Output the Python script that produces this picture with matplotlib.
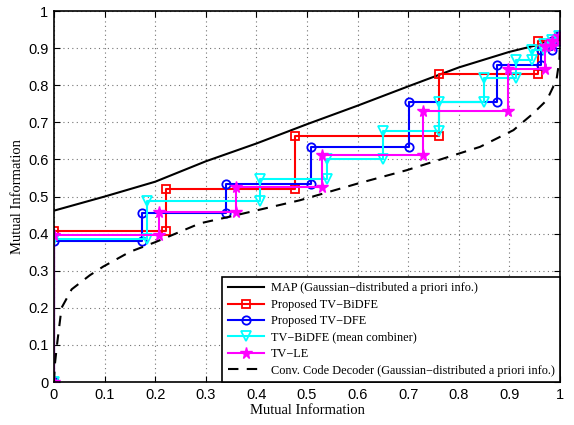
import matplotlib.pyplot as plt

# EXIT chart data
map_x = [0, 0.1, 0.2, 0.3, 0.4, 0.5, 0.6, 0.7, 0.8, 0.9, 0.96, 1.0]
map_y = [0.462, 0.500, 0.540, 0.595, 0.643, 0.695, 0.745, 0.797, 0.848, 0.890, 0.910, 0.934]

conv_x = [0, 0.002, 0.006, 0.015, 0.035, 0.071, 0.097, 0.150, 0.200, 0.289, 0.348,
          0.486, 0.600, 0.697, 0.842, 0.908, 0.947, 0.974, 0.993, 0.999, 1.0]
conv_y = [0, 0.050, 0.100, 0.200, 0.250, 0.288, 0.311, 0.351, 0.377, 0.428, 0.446,
          0.490, 0.535, 0.571, 0.634, 0.679, 0.724, 0.760, 0.814, 0.870, 0.934]

bidfe_x = [0, 0.221, 0.476, 0.760, 0.957, 0.998]
bidfe_y = [0.408, 0.520, 0.663, 0.830, 0.918, 0.932]

dfe_x = [0, 0.173, 0.340, 0.507, 0.702, 0.876, 0.962, 0.985, 0.998]
dfe_y = [0.380, 0.456, 0.534, 0.634, 0.755, 0.854, 0.895, 0.918, 0.932]

mean_x = [0, 0.184, 0.408, 0.539, 0.651, 0.760, 0.850, 0.913, 0.944, 0.968, 0.985, 0.998]
mean_y = [0.386, 0.487, 0.547, 0.600, 0.677, 0.756, 0.820, 0.868, 0.895, 0.910, 0.922, 0.932]

le_x = [0, 0.208, 0.360, 0.529, 0.729, 0.897, 0.970, 0.985, 0.998]
le_y = [0.397, 0.459, 0.525, 0.612, 0.731, 0.845, 0.905, 0.920, 0.932]

ticks = [0, 0.1, 0.2, 0.3, 0.4, 0.5, 0.6, 0.7, 0.8, 0.9, 1]
tick_labels = ["0", "0.1", "0.2", "0.3", "0.4", "0.5", "0.6", "0.7", "0.8", "0.9", "1"]


def staircase(xs, ys):
    # start at the origin, go up, then alternate horizontal / vertical steps
    px, py = [0, xs[0]], [0, ys[0]]
    for i in range(1, len(xs)):
        px += [xs[i], xs[i]]
        py += [ys[i - 1], ys[i]]
    return px, py


fig = plt.figure(figsize=(5.74, 4.25), dpi=100)
ax = fig.add_axes([0.094, 0.101, 0.8816, 0.873])

ax.plot(map_x, map_y, color="black", lw=1.5,
        label="MAP (Gaussian\u2212distributed a priori info.)")

sx, sy = staircase(bidfe_x, bidfe_y)
ax.plot(sx, sy, color="red", lw=1.5, marker="s", ms=5.5, mfc="none", mew=1.3,
        label="Proposed TV\u2212BiDFE")
sx, sy = staircase(dfe_x, dfe_y)
ax.plot(sx, sy, color="blue", lw=1.5, marker="o", ms=6, mfc="none", mew=1.3,
        label="Proposed TV\u2212DFE")
sx, sy = staircase(mean_x, mean_y)
ax.plot(sx, sy, color="cyan", lw=1.5, marker="v", ms=6.5, mfc="none", mew=1.3,
        label="TV\u2212BiDFE (mean combiner)")
sx, sy = staircase(le_x, le_y)
ax.plot(sx, sy, color="magenta", lw=1.5, marker="*", ms=8.5, mew=1.0,
        label="TV\u2212LE")

ax.plot(conv_x, conv_y, color="black", lw=1.5, linestyle=(0, (5, 4)),
        label="Conv. Code Decoder (Gaussian\u2212distributed a priori info.)")

ax.set_xlim(0, 1)
ax.set_ylim(0, 1)
ax.set_xticks(ticks)
ax.set_yticks(ticks)
ax.set_xticklabels(tick_labels, fontsize=10.5, family="Liberation Sans")
ax.set_yticklabels(tick_labels, fontsize=10.5, family="Liberation Sans")
ax.tick_params(direction="in", top=True, right=True, length=4, width=0.8, pad=4)
for sp in ax.spines.values():
    sp.set_linewidth(1.2)

ax.grid(True, linestyle=(0, (1, 3)), color="0.45", lw=0.8)

ax.set_xlabel("Mutual Information", fontsize=10.5, family="Liberation Serif", labelpad=2)
ax.set_ylabel("Mutual Information", fontsize=10.5, family="Liberation Serif", labelpad=3)

leg = ax.legend(loc="lower right", prop={"family": "Liberation Serif", "size": 8.85},
                fancybox=False, framealpha=1, edgecolor="black", borderaxespad=0,
                handlelength=3.0, handletextpad=0.5, labelspacing=0.36, borderpad=0.45)
leg.get_frame().set_linewidth(1.2)

plt.savefig("out.png", dpi=100)
